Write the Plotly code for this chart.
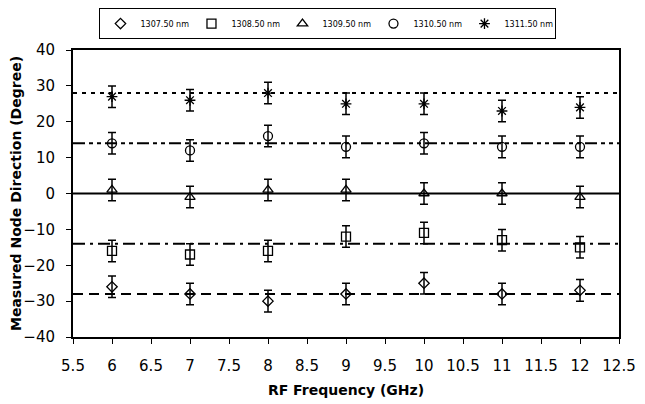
import plotly.graph_objects as go

freq = [6, 7, 8, 9, 10, 11, 12]
series_names = ["1307.50 nm", "1308.50 nm", "1309.50 nm", "1310.50 nm", "1311.50 nm"]
v1307 = [-26, -28, -30, -28, -25, -28, -27]
v1308 = [-16, -17, -16, -12, -11, -13, -15]
v1309 = [1, -1, 1, 1, 0, 0, -1]
v1310 = [14, 12, 16, 13, 14, 13, 13]
v1311 = [27, 26, 28, 25, 25, 23, 24]
err = [3, 3, 3, 3, 3, 3, 3]
nominal = [-28, -14, 0, 14, 28]
x_ticks = [5.5, 6, 6.5, 7, 7.5, 8, 8.5, 9, 9.5, 10, 10.5, 11, 11.5, 12, 12.5]
y_ticks = [-40, -30, -20, -10, 0, 10, 20, 30, 40]

values = [v1307, v1308, v1309, v1310, v1311]
symbols = ["diamond-open", "square-open", "triangle-up-open", "circle-open", "asterisk-open"]
sizes = [8, 9, 9, 9, 9]
line_dashes = ["10px,6px", "12px,5px,3px,5px", "solid", "12px,4px,4px,4px,4px,4px", "4px,5px"]

fig = go.Figure()

for yv, dash in zip(nominal, line_dashes):
    fig.add_trace(go.Scatter(
        x=[x_ticks[0], x_ticks[-1]], y=[yv, yv], mode="lines",
        line=dict(color="black", width=2, dash=dash),
        showlegend=False, hoverinfo="skip",
    ))

for name, vals, sym, sz in zip(series_names, values, symbols, sizes):
    fig.add_trace(go.Scatter(
        x=freq, y=vals, mode="markers", name=name,
        marker=dict(symbol=sym, size=sz, color="black", line=dict(color="black", width=1.3)),
        error_y=dict(type="data", array=err, visible=True, color="black", thickness=1.5, width=4),
    ))

font_family = "DejaVu Sans, sans-serif"

fig.update_layout(
    width=645, height=404,
    margin=dict(l=65, r=34, t=42, b=75, autoexpand=False),
    paper_bgcolor="white", plot_bgcolor="white",
    font=dict(family=font_family, color="black"),
    legend=dict(
        orientation="h",
        x=0.467, xanchor="center", y=1.146, yanchor="top",
        font=dict(size=8, family=font_family, color="black"),
        bordercolor="black", borderwidth=1, bgcolor="white",
        itemwidth=30, entrywidth=46, entrywidthmode="pixels",
    ),
    xaxis=dict(
        range=[5.5, 12.5], tickvals=x_ticks, ticktext=[f"{t:g}" for t in x_ticks],
        showgrid=False, zeroline=False, automargin=False,
        showline=True, linecolor="black", linewidth=2, mirror=True,
        ticks="outside", ticklen=5, tickcolor="black", tickwidth=1,
        tickfont=dict(size=15), ticklabelstandoff=9,
        title=dict(text="<b>RF Frequency (GHz)</b>", font=dict(size=14), standoff=11),
    ),
    yaxis=dict(
        range=[-40, 40], tickvals=y_ticks,
        showgrid=False, zeroline=False, automargin=False,
        showline=True, linecolor="black", linewidth=2, mirror=True,
        ticks="outside", ticklen=5, tickcolor="black", tickwidth=1,
        tickfont=dict(size=15), ticklabelstandoff=8,
        title=dict(text="<b>Measured Node Direction (Degree)</b>", font=dict(size=14), standoff=0),
    ),
)

fig.write_html("out.html")
